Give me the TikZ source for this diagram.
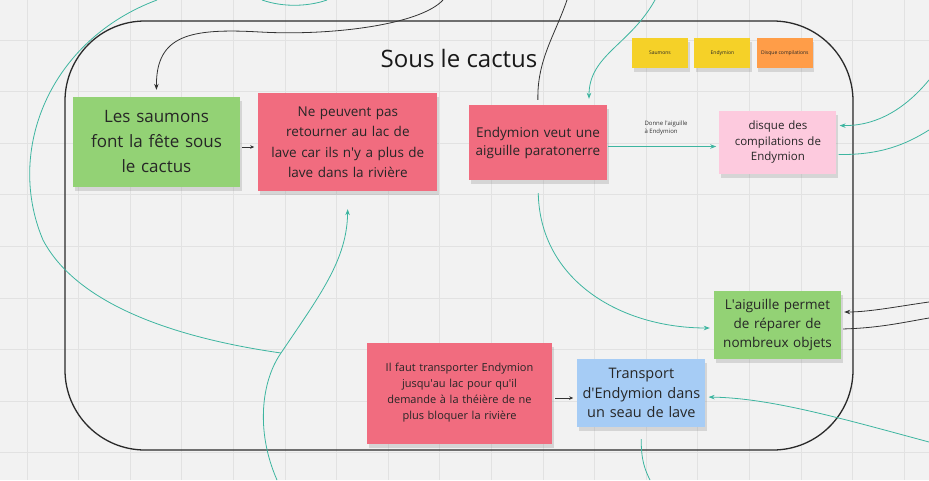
\documentclass[tikz,border=0pt]{standalone}
\usepackage{fontspec}
\setmainfont{Open Sans}
\usetikzlibrary{positioning, arrows.meta, shadows}
\newcommand{\quoteap}{\textquotesingle}

\definecolor{board}{HTML}{F2F2F2}
\definecolor{gridline}{HTML}{E2E2E2}
\definecolor{frameline}{HTML}{2A2A2A}
\definecolor{notegreen}{HTML}{93D275}
\definecolor{notered}{HTML}{F16C7F}
\definecolor{notepink}{HTML}{FDCADE}
\definecolor{noteblue}{HTML}{A6CCF5}
\definecolor{noteyellow}{HTML}{F5D128}
\definecolor{noteorange}{HTML}{FF9D48}
\definecolor{linkteal}{HTML}{3DB5A0}

\tikzset{
  % Sticky note, fill colour as argument
  sticky/.style={
    fill=#1, text=black!85, align=center, inner sep=2pt,
    drop shadow={shadow xshift=1.5pt, shadow yshift=-4pt, opacity=0.25}
  },
  % Small legend note (top right)
  keynote/.style={
    sticky=#1, minimum width=56pt, minimum height=30pt,
    font=\fontsize{5}{6}\selectfont
  },
  % Teal connector with arrow tip
  tlink/.style={
    draw=linkteal, line width=0.8pt, -{Stealth[length=6pt, width=4.5pt]}
  },
  % Teal connector, no tip
  tline/.style={draw=linkteal, line width=0.8pt},
  % Black connector with arrow tip
  blink/.style={
    draw=black!80, line width=0.8pt, -{Stealth[length=6pt, width=4.5pt]}
  },
  % Black connector, no tip
  bline/.style={draw=black!80, line width=0.8pt}
}

\begin{document}
\begin{tikzpicture}[x=1pt, y=-1pt]

% ============================================================
% BOARD -- background and grid
% ============================================================
\fill[board] (0,0) rectangle (929,480);
\useasboundingbox (0,0) rectangle (929,480);
\foreach \gx in {0,...,17}
  \draw[gridline, line width=0.8pt] ({27+51.6*\gx},0) -- ({27+51.6*\gx},480);
\foreach \gy in {0,...,8}
  \draw[gridline, line width=0.8pt] (0,{40+51.6*\gy}) -- (929,{40+51.6*\gy});

% ============================================================
% FRAME -- Sous le cactus
% ============================================================
\draw[frameline, line width=1.3pt, rounded corners=80pt] (65,21) rectangle (853,450);
\node[font=\fontsize{24}{28}\selectfont, text=black!90] (title) at (459,58) {Sous le cactus};

% ============================================================
% LEGEND
% ============================================================
\node[keynote=noteyellow] (saumons-key) at (660,53) {Saumons};
\node[keynote=noteyellow, right=6pt of saumons-key] (endymion-key) {Endymion};
\node[keynote=noteorange, right=6pt of endymion-key] (disque-key) {Disque compilations};

% ============================================================
% TOP ROW
% ============================================================
\node[sticky=notegreen, minimum width=167pt, minimum height=90pt, text width=155pt,
      font=\fontsize{17}{25}\selectfont] (saumons-note) at (156.5,142)
  {Les saumons\\font la fête sous\\le cactus};

\node[sticky=notered, minimum width=179pt, minimum height=98pt, text width=170pt,
      font=\fontsize{13.5}{20.5}\selectfont, right=18pt of saumons-note] (lave-note)
  {Ne peuvent pas\\retourner au lac de\\lave car ils n\quoteap y a plus de\\lave dans la rivière};

\node[sticky=notered, minimum width=138pt, minimum height=75pt, text width=132pt,
      font=\fontsize{13.5}{18}\selectfont] (endy-note) at (538,142.5)
  {Endymion veut une\\aiguille paratonerre};

\node[sticky=notepink, minimum width=117pt, minimum height=63pt, text width=110pt,
      font=\fontsize{11.5}{15.5}\selectfont, right=112pt of endy-note] (disque-note)
  {disque des\\compilations de\\Endymion};

% ============================================================
% BOTTOM ROW
% ============================================================
\node[sticky=notegreen, minimum width=127pt, minimum height=68pt, text width=122pt,
      font=\fontsize{13.5}{19}\selectfont] (aiguille-note) at (777.5,325)
  {L\quoteap aiguille permet\\de réparer de\\nombreux objets};

\node[sticky=notered, minimum width=185pt, minimum height=101pt, text width=178pt,
      font=\fontsize{11}{16}\selectfont] (ilfaut-note) at (459.5,393)
  {Il faut transporter Endymion\\jusqu\quoteap au lac pour qu\quoteap il\\demande à la théière de ne\\plus bloquer la rivière};

\node[sticky=noteblue, minimum width=128pt, minimum height=68pt, text width=122pt,
      font=\fontsize{14.5}{19.5}\selectfont, right=25pt of ilfaut-note] (seau-note)
  {Transport\\d\quoteap Endymion dans\\un seau de lave};

% ============================================================
% FREE ENDS (outside the frame)
% ============================================================
\coordinate (in-top-left)   at (157,0);
\coordinate (in-top-black)  at (443,0);
\coordinate (out-top-black) at (567,0);
\coordinate (in-top-teal)   at (655,0);
\coordinate (in-right-1)    at (929,80);
\coordinate (out-right-1)   at (929,130);
\coordinate (in-right-2)    at (929,302);
\coordinate (out-right-2)   at (929,318);
\coordinate (in-right-3)    at (929,442);
\coordinate (in-bottom)     at (277,480);
\coordinate (out-bottom)    at (650,480);
\coordinate (merge)         at (281,353);
\coordinate (loop-a)        at (262,0);
\coordinate (loop-b)        at (327,0);

% ============================================================
% ARROWS
% ============================================================

% -- top black curve into Les saumons --
\draw[blink, shorten >=7pt] (in-top-black) .. controls (420,25) and (330,36) .. (260,32)
  .. controls (190,28) and (156,35) .. (saumons-note.north);

% -- Les saumons --> Ne peuvent pas --
\draw[blink, line width=0.6pt, -{Stealth[length=4pt, width=3.5pt]}, shorten <=2pt, shorten >=4pt]
  ([yshift=-5pt]saumons-note.east) -- ([yshift=-5pt]lave-note.west);

% -- bottom teal curve up into Ne peuvent pas --
\draw[tlink, shorten >=18pt] (in-bottom) .. controls (255,430) and (262,380) .. (merge)
  .. controls (320,295) and (347,260) .. (lave-note.south);
\draw[tline] (in-top-left) .. controls (50,40) and (5,150) .. (43,240)
  .. controls (80,310) and (190,340) .. (merge);
\draw[tline] (loop-a) .. controls (285,8) and (310,6) .. (loop-b);

% -- Endymion veut une aiguille, top connectors --
\draw[bline, shorten <=5pt] (endy-note.north) .. controls (537,60) and (555,35) .. (out-top-black);
\draw[tlink, shorten >=6pt] (in-top-teal) .. controls (630,45) and (589,55) .. ([xshift=51pt]endy-note.north);

% -- Endymion --> disque --
\draw[tlink, shorten <=1pt, shorten >=3pt] ([yshift=-4pt]endy-note.east) -- ([yshift=-4pt]disque-note.west)
  node[pos=0.3, anchor=south west, yshift=8pt, align=left, text=black!80,
       font=\fontsize{6}{8}\selectfont] (give-label) {Donne l\quoteap aiguille\\à Endymion};

% -- disque, right side --
\draw[tlink, shorten >=3pt] (in-right-1) .. controls (900,115) and (870,126) .. ([yshift=17pt]disque-note.east);
\draw[tline, shorten <=2pt] ([yshift=-12pt]disque-note.east) .. controls (880,155) and (905,145) .. (out-right-1);

% -- Endymion --> L'aiguille permet --
\draw[tlink, shorten <=13pt, shorten >=4pt] (endy-note.south) .. controls (540,280) and (620,328) .. ([yshift=-3pt]aiguille-note.west);

% -- L'aiguille permet, right side --
\draw[blink, shorten >=3pt] (in-right-2) .. controls (900,306) and (870,312) .. ([yshift=13pt]aiguille-note.east);
\draw[bline, shorten <=2pt] ([yshift=-4pt]aiguille-note.east) .. controls (880,328) and (905,322) .. (out-right-2);

% -- Il faut --> Transport --
\draw[blink, line width=0.6pt, -{Stealth[length=4pt, width=3.5pt]}, shorten <=3pt, shorten >=4pt]
  ([yshift=-5pt]ilfaut-note.east) -- ([yshift=-5pt]seau-note.west);

% -- Transport, right and bottom --
\draw[tlink, shorten >=3pt] (in-right-3) .. controls (840,418) and (770,398) .. ([yshift=-4pt]seau-note.east);
\draw[tline, shorten <=12pt] (seau-note.south) .. controls (641,460) and (645,470) .. (out-bottom);

\end{tikzpicture}
\end{document}
